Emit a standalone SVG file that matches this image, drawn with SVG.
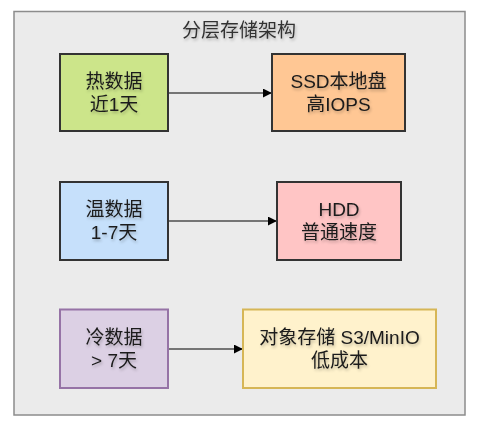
<svg xmlns="http://www.w3.org/2000/svg" width="481" height="429" viewBox="0 0 481 429">
<style>
text{font-family:"Liberation Sans","Noto Sans CJK SC",sans-serif;font-size:19px;fill:#1a1a1a;text-anchor:middle;dominant-baseline:central}
.node{stroke-width:2}
.edge{stroke:#000;stroke-width:1.2;fill:none;marker-end:url(#arr)}
.t{filter:url(#ts)}
</style>
<defs>
<marker id="arr" viewBox="0 0 10 10" refX="9" refY="5" markerWidth="9" markerHeight="9" orient="auto" markerUnits="userSpaceOnUse"><path d="M0,0 L10,5 L0,10 z" fill="#000"/></marker>
<filter id="ts" x="-20%" y="-40%" width="140%" height="180%"><feGaussianBlur in="SourceAlpha" stdDeviation="1.5"/><feOffset dx="1" dy="2"/><feComponentTransfer><feFuncA type="linear" slope="0.25"/></feComponentTransfer><feMerge><feMergeNode/><feMergeNode in="SourceGraphic"/></feMerge></filter>
</defs>
<g id="container">
<rect x="14" y="11.5" width="451" height="403.5" fill="#ebebeb" stroke="#8c8c8c" stroke-width="1.5"/>
<text x="239" y="30" class="t" style="fill:#333">分层存储架构</text>
</g>
<g id="connectors">
<path class="edge" d="M168,93 H271"/>
<path class="edge" d="M168,221 H276"/>
<path class="edge" d="M168,349 H242"/>
</g>
<g id="hot">
<rect class="node" x="60" y="54" width="108" height="77" fill="#cce58a" stroke="#333"/>
<text x="114" y="81.5" class="t">热数据</text>
<text x="114" y="104.5" class="t">近1天</text>
</g>
<g id="ssd">
<rect class="node" x="272" y="54" width="133" height="77" fill="#ffc794" stroke="#333"/>
<text x="338.5" y="81.5" class="t">SSD本地盘</text>
<text x="338.5" y="104.5" class="t">高IOPS</text>
</g>
<g id="warm">
<rect class="node" x="60" y="182" width="108" height="78" fill="#c6e0fb" stroke="#333"/>
<text x="114" y="209.5" class="t">温数据</text>
<text x="114" y="232.5" class="t">1-7天</text>
</g>
<g id="hdd">
<rect class="node" x="277" y="182" width="124" height="78" fill="#ffc5c5" stroke="#333"/>
<text x="339" y="209.5" class="t">HDD</text>
<text x="339" y="232.5" class="t">普通速度</text>
</g>
<g id="cold">
<rect class="node" x="60" y="309.5" width="108" height="78.5" fill="#dcd0e4" stroke="#9673a6"/>
<text x="114" y="337.5" class="t">冷数据</text>
<text x="114" y="360.5" class="t">&gt; 7天</text>
</g>
<g id="object">
<rect class="node" x="243" y="309.5" width="193" height="78.5" fill="#fff2cc" stroke="#d6b656"/>
<text x="339.5" y="337.5" class="t">对象存储 S3/MinIO</text>
<text x="339.5" y="360.5" class="t">低成本</text>
</g>
</svg>
